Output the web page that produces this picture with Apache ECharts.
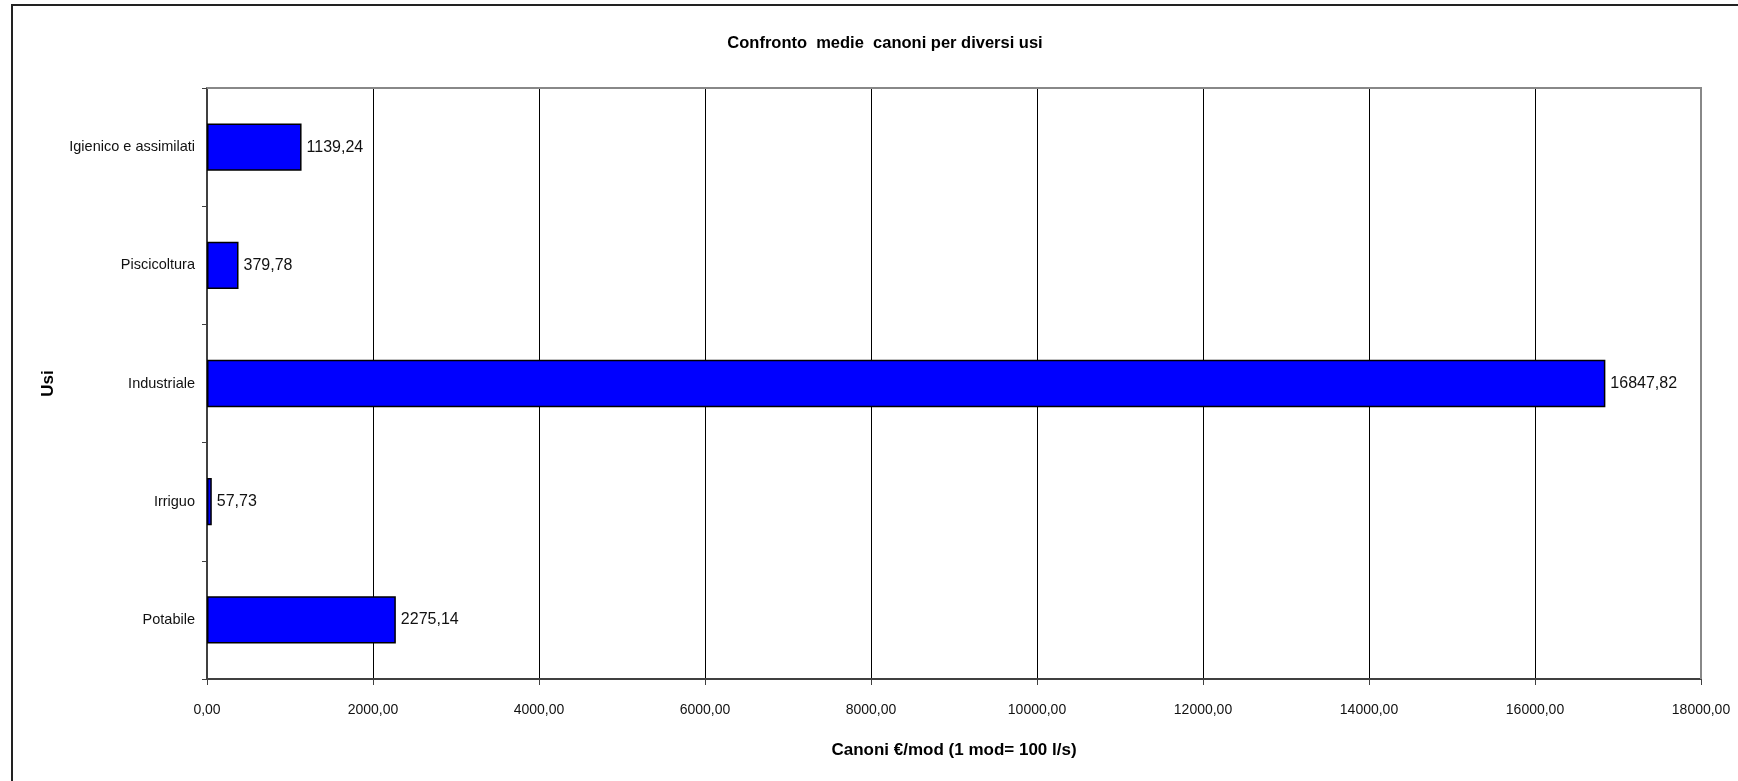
<!DOCTYPE html>
<html>
<head>
<meta charset="utf-8">
<title>Confronto medie canoni per diversi usi</title>
<script src="https://cdn.jsdelivr.net/npm/echarts@6/dist/echarts.min.js"></script>
<style>
  html, body { margin: 0; padding: 0; background: #fff; }
  #chart { width: 1738px; height: 781px; }
</style>
</head>
<body>
<div id="chart"></div>
<script>
// Uses (bottom to top on the category axis)
const categories = ['Potabile', 'Irriguo', 'Industriale', 'Piscicoltura', 'Igienico e assimilati'];
// Average fee per use, €/mod
const canoni = [2275.14, 57.73, 16847.82, 379.78, 1139.24];
// Value axis range
const xMin = 0;
const xMax = 18000;
const xStep = 2000;

const FONT = "'Liberation Sans', Arial, sans-serif";
const fmt = v => Number(v).toFixed(2).replace('.', ',');

const chart = echarts.init(document.getElementById('chart'), null, { renderer: 'canvas' });

chart.setOption({
  backgroundColor: '#ffffff',
  animation: false,
  title: {
    text: 'Confronto  medie  canoni per diversi usi',
    left: 880,
    textAlign: 'center',
    top: 30,
    textStyle: { fontFamily: FONT, fontWeight: 'bold', fontSize: 16.5, color: '#000' }
  },
  grid: { left: 207, right: 37, top: 88, bottom: 102, containLabel: false },
  xAxis: {
    type: 'value',
    min: xMin,
    max: xMax,
    interval: xStep,
    name: 'Canoni €/mod (1 mod= 100 l/s)',
    nameLocation: 'middle',
    nameGap: 63,
    nameMoveOverlap: false,
    nameTextStyle: { fontFamily: FONT, fontWeight: 'bold', fontSize: 17, color: '#000' },
    axisLine: { show: true, lineStyle: { color: '#404040', width: 2 } },
    axisTick: { show: true, inside: false, length: 6, lineStyle: { color: '#404040', width: 1 } },
    axisLabel: { formatter: fmt, fontFamily: FONT, fontSize: 14, color: '#111', margin: 24 },
    splitLine: { show: true, lineStyle: { color: '#000', width: 1 } }
  },
  yAxis: {
    type: 'category',
    data: categories,
    name: 'Usi',
    nameLocation: 'middle',
    nameGap: 150,
    nameRotate: 90,
    nameMoveOverlap: false,
    nameTextStyle: { fontFamily: FONT, fontWeight: 'bold', fontSize: 17, color: '#000' },
    axisLine: { show: true, lineStyle: { color: '#404040', width: 2 } },
    axisTick: { show: true, inside: false, length: 5, alignWithLabel: false, lineStyle: { color: '#404040', width: 1 } },
    axisLabel: { fontFamily: FONT, fontSize: 14.5, color: '#111', margin: 12 },
    splitLine: { show: false }
  },
  series: [{
    type: 'bar',
    data: canoni,
    barCategoryGap: '60%',
    itemStyle: { color: '#0000ff', borderColor: '#000', borderWidth: 1.5 },
    label: {
      show: true,
      position: 'right',
      distance: 5,
      formatter: p => fmt(p.value),
      fontFamily: FONT,
      fontSize: 16,
      color: '#111'
    }
  }],
  graphic: [
    // outer frame: left and top edges
    {
      type: 'polyline',
      shape: { points: [[12, 800], [12, 5], [1738, 5]] },
      style: { fill: 'none', stroke: '#222', lineWidth: 2 },
      silent: true
    },
    // top and right edges of the plot area
    {
      type: 'polyline',
      shape: { points: [[207, 88], [1701, 88], [1701, 679]] },
      style: { fill: 'none', stroke: '#888', lineWidth: 2 },
      silent: true,
      z: 10
    }
  ]
});
</script>
</body>
</html>
